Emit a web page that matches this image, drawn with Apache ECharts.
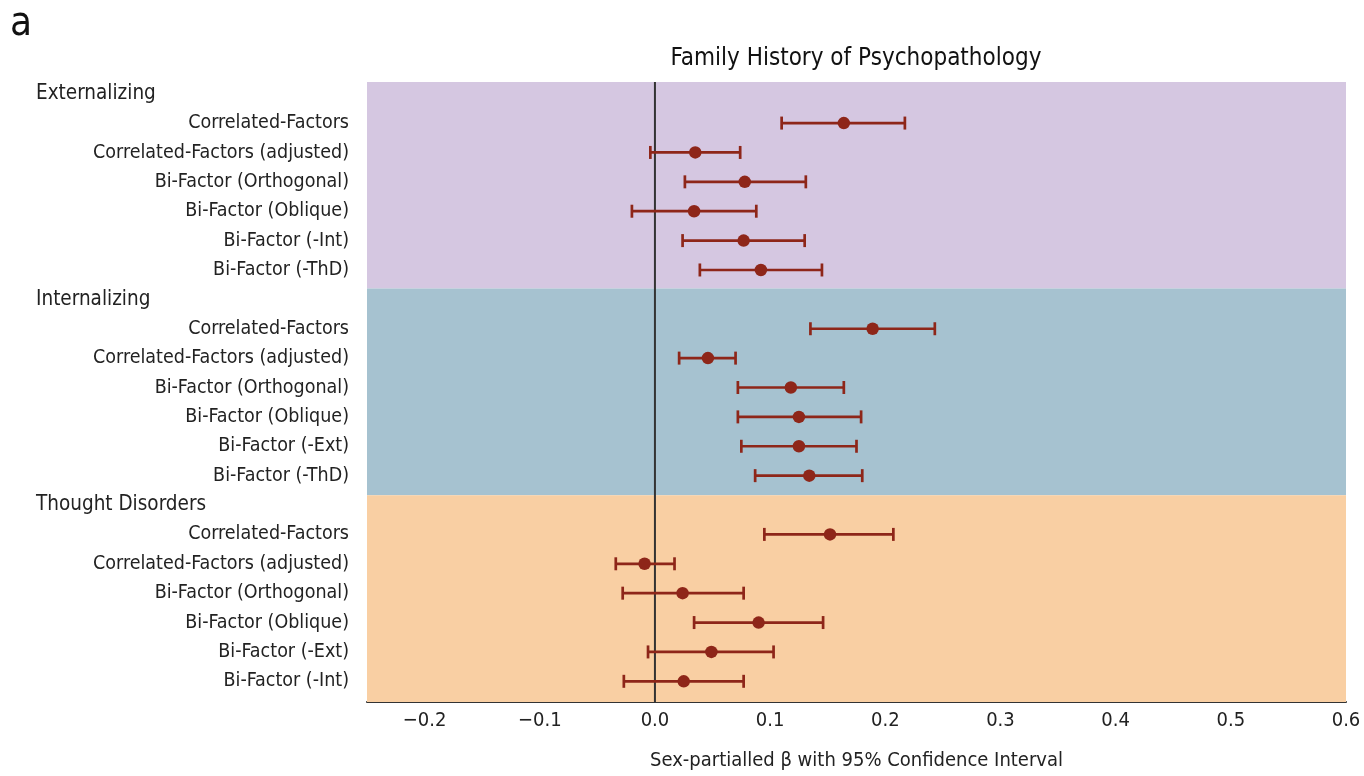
<!DOCTYPE html>
<html><head><meta charset="utf-8">
<script src="https://cdn.jsdelivr.net/npm/echarts@6/dist/echarts.min.js"></script>
<style>html,body{margin:0;padding:0;background:#fff}#c{width:1364px;height:776px}</style>
</head><body><div id="c"></div>
<script>
var groups = ['Externalizing', 'Internalizing', 'Thought Disorders'];
var extModels = ['Correlated-Factors', 'Correlated-Factors (adjusted)', 'Bi-Factor (Orthogonal)', 'Bi-Factor (Oblique)', 'Bi-Factor (-Int)', 'Bi-Factor (-ThD)'];
var intModels = ['Correlated-Factors', 'Correlated-Factors (adjusted)', 'Bi-Factor (Orthogonal)', 'Bi-Factor (Oblique)', 'Bi-Factor (-Ext)', 'Bi-Factor (-ThD)'];
var thdModels = ['Correlated-Factors', 'Correlated-Factors (adjusted)', 'Bi-Factor (Orthogonal)', 'Bi-Factor (Oblique)', 'Bi-Factor (-Ext)', 'Bi-Factor (-Int)'];

var extEst = [0.164, 0.035, 0.078, 0.034, 0.077, 0.092];
var extLo  = [0.110, -0.004, 0.026, -0.020, 0.024, 0.039];
var extHi  = [0.217, 0.074, 0.131, 0.088, 0.130, 0.145];
var intEst = [0.189, 0.046, 0.118, 0.125, 0.125, 0.134];
var intLo  = [0.135, 0.021, 0.072, 0.072, 0.075, 0.087];
var intHi  = [0.243, 0.070, 0.164, 0.179, 0.175, 0.180];
var thdEst = [0.152, -0.009, 0.024, 0.090, 0.049, 0.025];
var thdLo  = [0.095, -0.034, -0.028, 0.034, -0.006, -0.027];
var thdHi  = [0.207, 0.017, 0.077, 0.146, 0.103, 0.077];

var bandColors = ['#d5c7e1', '#a6c2d0', '#f9cfa3'];
var markColor = '#8e2619';
var FONT = '"Liberation Sans Narrow", "DejaVu Sans Condensed", "Liberation Sans", sans-serif';

var modelSets = [extModels, intModels, thdModels];
var estSets = [extEst, intEst, thdEst];
var loSets = [extLo, intLo, thdLo];
var hiSets = [extHi, intHi, thdHi];

var rowLabels = [], rowIsHeader = [], pts = [], bars = [], bands = [];
groups.forEach(function (g, gi) {
  var start = rowLabels.length;
  rowLabels.push(g); rowIsHeader.push(true);
  modelSets[gi].forEach(function (m, mi) {
    var idx = rowLabels.length;
    rowLabels.push(m); rowIsHeader.push(false);
    pts.push([estSets[gi][mi], idx]);
    bars.push([loSets[gi][mi], hiSets[gi][mi], idx]);
  });
  bands.push([0, start, rowLabels.length, gi]);
});
var nRows = rowLabels.length;
var catKeys = rowLabels.map(function (_, i) { return String(i); });
// band edges sit slightly off the row grid in the original figure
function bandPos(r) { return 0.1 + r * 1.0048; }

var chart = echarts.init(document.getElementById('c'));
chart.setOption({
  animation: false,
  title: {
    text: 'Family History of Psychopathology',
    left: 851, top: 42, textAlign: 'center',
    textStyle: { fontFamily: FONT, fontSize: 24, fontWeight: 'normal', color: '#111' }
  },
  graphic: [{
    type: 'text', left: 10, top: 5,
    style: { text: 'a', font: '40px ' + FONT, fill: '#111' }
  }],
  grid: { left: 367, right: 18, top: 79, bottom: 78, containLabel: false },
  xAxis: {
    type: 'value', min: -0.25, max: 0.6, splitNumber: 9, offset: 6,
    axisLine: { show: true, onZero: false, lineStyle: { color: '#333', width: 2 } },
    axisTick: { show: false },
    splitLine: { show: false },
    axisLabel: {
      fontFamily: FONT, fontSize: 20, color: '#222', margin: 9,
      formatter: function (v) {
        if (Math.abs(v + 0.25) < 1e-9) return '';
        return v.toFixed(1).replace('-', '\u2212');
      }
    },
    name: 'Sex-partialled \u03b2 with 95% Confidence Interval',
    nameLocation: 'middle', nameGap: 49,
    nameTextStyle: { fontFamily: FONT, fontSize: 20, color: '#222' }
  },
  yAxis: [{
    type: 'category', data: catKeys, inverse: true, boundaryGap: true,
    axisLine: { show: false }, axisTick: { show: false }, splitLine: { show: false },
    axisLabel: {
      interval: 0, margin: 18, fontFamily: FONT, fontSize: 19.5, color: '#222',
      formatter: function (v) {
        var k = parseInt(v, 10);
        return rowIsHeader[k] ? '{h|' + rowLabels[k] + '}' : rowLabels[k];
      },
      rich: { h: { width: 313, align: 'left', fontFamily: FONT, fontSize: 20.5, color: '#222' } }
    }
  }, {
    type: 'value', min: 0, max: nRows, inverse: true, show: false
  }],
  series: [{
    type: 'custom', yAxisIndex: 1, silent: true, z: 1, clip: false,
    data: bands, encode: { x: 0, y: [1, 2] },
    renderItem: function (params, api) {
      var cs = params.coordSys;
      var y0 = api.coord([0, bandPos(api.value(1))])[1];
      var y1 = api.coord([0, bandPos(api.value(2))])[1];
      return { type: 'rect', shape: { x: cs.x, y: y0, width: cs.width, height: y1 - y0 },
        style: { fill: bandColors[api.value(3)] } };
    }
  }, {
    type: 'custom', yAxisIndex: 1, silent: true, z: 2, clip: false,
    data: [[0]], encode: { x: 0 },
    renderItem: function (params, api) {
      var a = api.coord([api.value(0), bandPos(0)]);
      var b = api.coord([api.value(0), bandPos(nRows)]);
      return { type: 'line', shape: { x1: a[0], y1: a[1], x2: b[0], y2: b[1] },
        style: { stroke: '#333', lineWidth: 2 } };
    }
  }, {
    type: 'custom', yAxisIndex: 0, silent: true, z: 3,
    data: bars, encode: { x: [0, 1], y: 2 },
    renderItem: function (params, api) {
      var r = api.value(2);
      var a = api.coord([api.value(0), r]);
      var b = api.coord([api.value(1), r]);
      var h = 6.5;
      var st = { stroke: markColor, lineWidth: 2.7 };
      return { type: 'group', children: [
        { type: 'line', shape: { x1: a[0], y1: a[1], x2: b[0], y2: b[1] }, style: st },
        { type: 'line', shape: { x1: a[0], y1: a[1] - h, x2: a[0], y2: a[1] + h }, style: st },
        { type: 'line', shape: { x1: b[0], y1: b[1] - h, x2: b[0], y2: b[1] + h }, style: st }
      ] };
    }
  }, {
    type: 'scatter', yAxisIndex: 0, z: 4, silent: true,
    data: pts, symbol: 'circle', symbolSize: 12.5,
    itemStyle: { color: markColor, opacity: 1 }
  }]
});
</script></body></html>
